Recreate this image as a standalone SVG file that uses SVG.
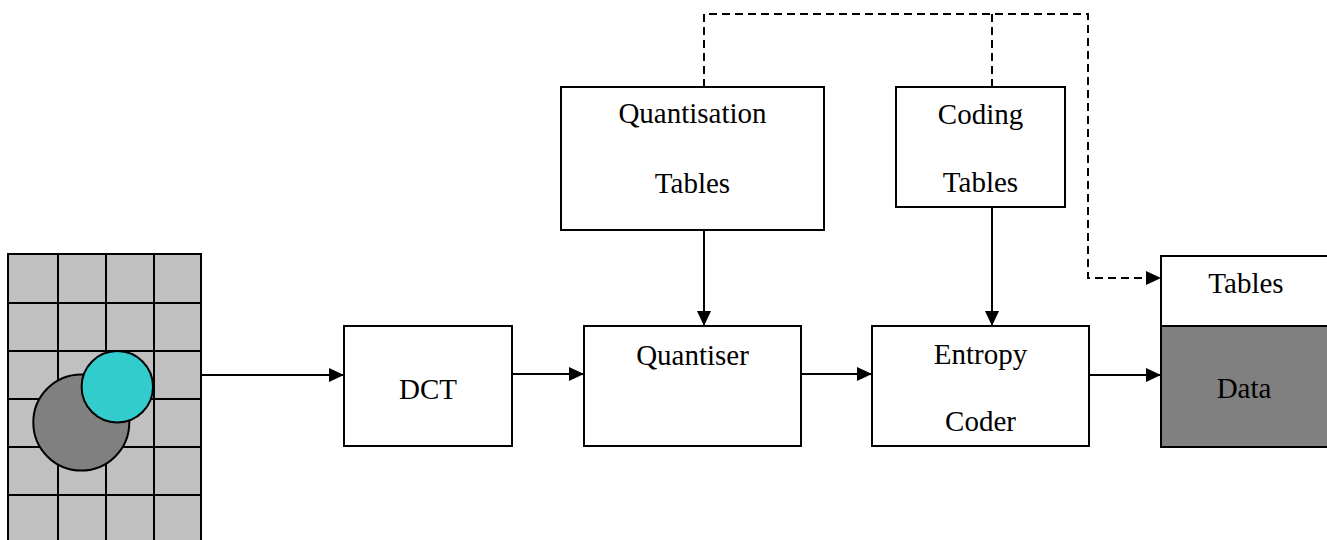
<svg xmlns="http://www.w3.org/2000/svg" width="1327" height="540" viewBox="0 0 1327 540">
<style>
.box{fill:#ffffff;stroke:#000;stroke-width:2}
.lbl{font-family:"Liberation Serif","Times New Roman",serif;font-size:29px;fill:#000;text-anchor:middle}
.conn{stroke:#000;stroke-width:2;fill:none}
.dash{stroke:#000;stroke-width:2;fill:none;stroke-dasharray:8,5}
.grid{stroke:#000;stroke-width:2}
</style>
<defs>
<marker id="arr" markerUnits="userSpaceOnUse" markerWidth="16" markerHeight="14" refX="15" refY="7" orient="auto">
<path d="M0,0 L15,7 L0,14 Z" fill="#000"/>
</marker>
</defs>
<rect width="1327" height="540" fill="#ffffff"/>
<g id="image">
<rect x="8" y="254" width="193" height="300" fill="#C0C0C0" stroke="#000" stroke-width="2"/>
<g class="grid">
<line x1="58" y1="254" x2="58" y2="540"/>
<line x1="106" y1="254" x2="106" y2="540"/>
<line x1="154" y1="254" x2="154" y2="540"/>
<line x1="8" y1="303" x2="201" y2="303"/>
<line x1="8" y1="351" x2="201" y2="351"/>
<line x1="8" y1="399" x2="201" y2="399"/>
<line x1="8" y1="447" x2="201" y2="447"/>
<line x1="8" y1="495" x2="201" y2="495"/>
</g>
<circle cx="81.3" cy="422.5" r="48" fill="#808080" stroke="#000" stroke-width="2"/>
<circle cx="117.3" cy="386.7" r="35.7" fill="#33CCCC" stroke="#000" stroke-width="2"/>
</g>
<g id="dct">
<rect class="box" x="344" y="326" width="168" height="120"/>
<text class="lbl" x="428" y="399">DCT</text>
</g>
<g id="quantiser">
<rect class="box" x="584" y="326" width="217" height="120"/>
<text class="lbl" x="692.5" y="365">Quantiser</text>
</g>
<g id="entropy">
<rect class="box" x="872" y="326" width="217" height="120"/>
<text class="lbl" x="980.5" y="364">Entropy</text>
<text class="lbl" x="980.5" y="431">Coder</text>
</g>
<g id="qtables">
<rect class="box" x="561" y="87" width="263" height="143"/>
<text class="lbl" x="692.5" y="123">Quantisation</text>
<text class="lbl" x="692.5" y="193">Tables</text>
</g>
<g id="ctables">
<rect class="box" x="896" y="87" width="169" height="120"/>
<text class="lbl" x="980.5" y="124">Coding</text>
<text class="lbl" x="980.5" y="192">Tables</text>
</g>
<g id="output">
<rect x="1161" y="256" width="172" height="70" fill="#ffffff" stroke="#000" stroke-width="2"/>
<rect x="1161" y="326" width="172" height="121" fill="#808080" stroke="#000" stroke-width="2"/>
<text class="lbl" x="1246" y="293">Tables</text>
<text class="lbl" x="1244" y="398">Data</text>
</g>
<g id="connectors">
<line class="conn" x1="201" y1="375" x2="344" y2="375" marker-end="url(#arr)"/>
<line class="conn" x1="512" y1="374" x2="584" y2="374" marker-end="url(#arr)"/>
<line class="conn" x1="801" y1="374" x2="872" y2="374" marker-end="url(#arr)"/>
<line class="conn" x1="1089" y1="375" x2="1161" y2="375" marker-end="url(#arr)"/>
<line class="conn" x1="704" y1="230" x2="704" y2="326" marker-end="url(#arr)"/>
<line class="conn" x1="992" y1="207" x2="992" y2="326" marker-end="url(#arr)"/>
<path class="dash" d="M704,87 L704,14 L1088,14 L1088,278 L1150,278"/>
<path d="M1146,271 L1161,278 L1146,285 Z" fill="#000"/>
<line class="dash" x1="992" y1="14" x2="992" y2="87"/>
</g>
</svg>
